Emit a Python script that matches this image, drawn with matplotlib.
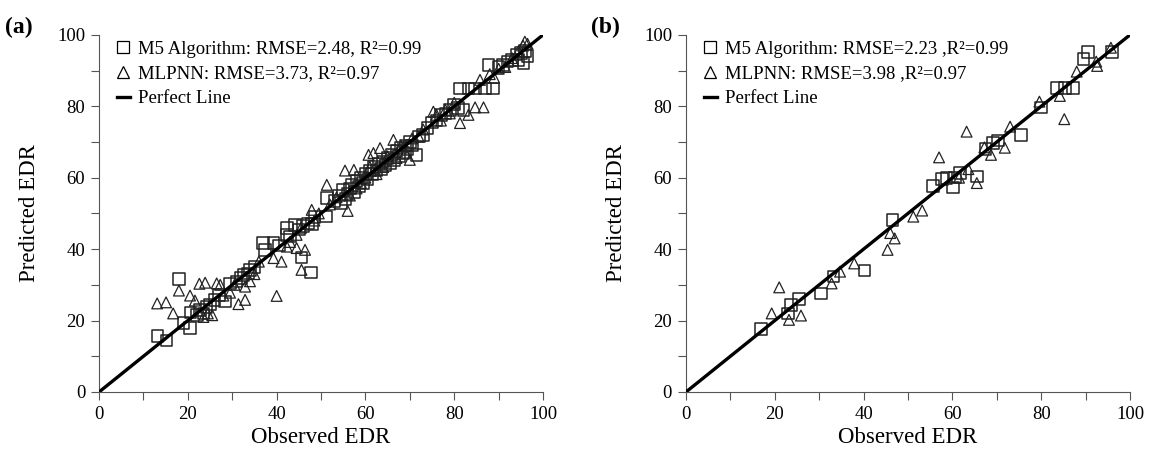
import matplotlib
matplotlib.use("Agg")
import matplotlib.pyplot as plt
from matplotlib.lines import Line2D
from matplotlib.ticker import MultipleLocator

plt.rcParams["font.family"] = ["Liberation Serif", "DejaVu Serif"]

# panel (a) - M5 algorithm (squares)
a_m5_obs = [13.2, 15.2, 18.0, 19.0, 20.5, 20.6, 22.0, 22.8, 23.5, 24.2, 25.0, 26.0, 27.0, 28.4,
            29.5, 31.0, 32.0, 32.5, 33.5, 34.0, 35.0, 37.0, 37.4, 39.3, 40.5, 42.3, 42.3, 43.0,
            44.1, 45.0, 45.6, 46.0, 47.0, 47.7, 47.9, 48.5, 51.1, 51.4, 53.0, 54.0, 54.5, 55.0,
            55.5, 56.0, 56.5, 57.0, 57.5, 58.0, 58.5, 59.0, 59.5, 60.0, 60.5, 61.0, 61.5, 62.0,
            62.5, 63.0, 63.5, 64.0, 64.5, 65.0, 65.5, 66.0, 66.5, 67.0, 67.5, 68.0, 68.5, 69.0,
            69.5, 70.0, 70.5, 71.5, 72.0, 73.0, 74.0, 75.0, 76.0, 77.0, 78.0, 79.0, 80.0, 80.9,
            81.3, 82.1, 83.2, 84.7, 86.9, 87.7, 88.8, 90.0, 91.0, 92.0, 93.0, 94.0, 94.5, 95.0,
            95.6, 96.0, 96.5]
a_m5_pred = [15.7, 14.4, 31.6, 19.4, 18.0, 22.3, 21.5, 23.0, 22.0, 23.8, 24.5, 25.8, 27.2, 25.3,
             30.4, 30.9, 32.0, 32.8, 33.2, 34.2, 35.0, 41.7, 39.8, 41.7, 41.0, 45.9, 44.0, 43.5,
             46.8, 45.5, 37.7, 46.5, 47.2, 33.5, 47.1, 49.0, 49.1, 54.3, 53.5, 55.0, 53.0, 56.5,
             54.0, 55.5, 57.0, 58.0, 56.0, 59.0, 57.5, 60.0, 58.5, 61.0, 59.5, 62.0, 61.0, 63.0,
             62.0, 64.0, 62.5, 64.5, 63.5, 65.5, 64.0, 66.5, 65.0, 67.5, 66.0, 68.5, 67.0, 69.0,
             68.0, 70.0, 69.0, 66.4, 71.5, 72.0, 74.0, 75.5, 76.0, 77.5, 78.0, 79.0, 80.5, 79.5,
             85.0, 79.0, 85.0, 85.0, 85.0, 91.6, 85.0, 91.0, 91.5, 92.5, 93.0, 94.5, 93.0, 95.0,
             92.1, 95.5, 94.0]

# panel (a) - MLPNN (triangles)
a_nn_obs = [13.1, 15.1, 16.7, 18.0, 20.5, 21.6, 22.6, 23.9, 23.5, 24.5, 25.5, 26.5, 27.3, 28.0,
            29.5, 30.5, 31.4, 32.9, 32.9, 34.0, 35.0, 36.0, 39.3, 40.0, 41.1, 42.3, 43.0, 44.5,
            44.5, 45.5, 46.4, 45.6, 47.9, 48.5, 49.5, 51.3, 52.0, 53.5, 55.4, 56.0, 56.5, 57.4,
            58.0, 59.0, 60.0, 60.7, 61.0, 61.8, 62.5, 63.3, 64.0, 65.0, 66.3, 67.0, 68.0, 69.0,
            70.0, 70.5, 72.0, 73.0, 75.3, 76.0, 77.0, 78.0, 79.0, 80.0, 81.3, 83.2, 84.7, 85.8,
            86.6, 88.0, 89.0, 90.0, 91.5, 93.0, 94.5, 95.5, 95.9, 96.5]
a_nn_pred = [24.8, 25.1, 22.0, 28.4, 27.0, 25.6, 30.3, 30.6, 21.0, 22.0, 21.5, 30.4, 30.0, 27.0,
             27.8, 30.0, 24.6, 25.8, 29.5, 31.0, 33.0, 36.5, 37.5, 26.9, 36.5, 40.7, 42.0, 40.3,
             44.0, 46.0, 39.8, 34.2, 51.0, 48.0, 50.0, 58.0, 52.5, 54.5, 62.0, 50.7, 55.0, 62.2,
             57.0, 58.5, 60.0, 66.4, 63.0, 66.9, 61.0, 68.3, 63.0, 66.0, 70.6, 65.5, 69.0, 67.0,
             65.0, 71.0, 71.5, 73.5, 78.5, 77.6, 76.0, 79.0, 78.0, 81.0, 75.3, 77.6, 79.7, 87.4,
             79.7, 89.0, 88.0, 90.5, 91.0, 93.5, 95.5, 97.0, 98.1, 97.5]

# panel (b) - M5 algorithm (squares)
b_m5_obs = [16.9, 23.0, 23.6, 25.5, 30.4, 33.2, 40.2, 46.5, 55.7, 57.6, 58.7, 60.2, 60.6, 61.7,
            65.5, 67.5, 69.2, 70.3, 75.4, 79.9, 83.5, 85.4, 87.2, 89.5, 90.6, 96.0]
b_m5_pred = [17.6, 22.0, 24.4, 26.0, 27.6, 32.3, 34.0, 48.2, 57.7, 59.6, 59.9, 57.3, 60.1, 61.3,
             60.3, 68.0, 69.7, 70.4, 72.0, 79.7, 85.1, 85.1, 85.1, 93.2, 95.2, 95.2]

# panel (b) - MLPNN (triangles)
b_nn_obs = [19.3, 21.0, 23.2, 25.9, 32.8, 34.7, 37.9, 45.4, 46.0, 47.0, 51.2, 53.2, 57.0, 61.5,
            63.2, 63.6, 65.5, 67.2, 68.7, 71.8, 73.0, 79.6, 84.2, 85.2, 88.0, 92.6, 92.4, 95.7]
b_nn_pred = [22.0, 29.3, 20.2, 21.4, 30.4, 33.7, 36.0, 39.8, 44.5, 43.0, 49.1, 50.8, 65.7, 60.0,
             72.9, 62.4, 58.5, 68.5, 66.4, 68.4, 74.3, 81.3, 82.9, 76.4, 89.7, 91.3, 92.5, 96.4]

labels_a = ["M5 Algorithm: RMSE=2.48, R²=0.99", "MLPNN: RMSE=3.73, R²=0.97", "Perfect Line"]
labels_b = ["M5 Algorithm: RMSE=2.23 ,R²=0.99", "MLPNN: RMSE=3.98 ,R²=0.97", "Perfect Line"]

fig = plt.figure(figsize=(11.5, 4.65), dpi=100)
ax_a = fig.add_axes([0.0861, 0.157, 0.3861, 0.768])
ax_b = fig.add_axes([0.5965, 0.157, 0.3861, 0.768])

panels = [
    (ax_a, a_m5_obs, a_m5_pred, a_nn_obs, a_nn_pred, labels_a, "(a)", 0.004),
    (ax_b, b_m5_obs, b_m5_pred, b_nn_obs, b_nn_pred, labels_b, "(b)", 0.514),
]

for ax, mx, my, nx, ny, labels, tag, tag_x in panels:
    ax.plot([0, 100], [0, 100], color="black", lw=2.4, zorder=3)
    ax.scatter(nx, ny, marker="^", s=60, facecolors="none", edgecolors="#222222",
               linewidths=0.9, zorder=2)
    ax.scatter(mx, my, marker="s", s=70, facecolors="none", edgecolors="#222222",
               linewidths=1.1, zorder=2)

    ax.set_xlim(0, 100)
    ax.set_ylim(0, 100)
    ax.xaxis.set_major_locator(MultipleLocator(20))
    ax.yaxis.set_major_locator(MultipleLocator(20))
    ax.xaxis.set_minor_locator(MultipleLocator(10))
    ax.yaxis.set_minor_locator(MultipleLocator(10))
    ax.tick_params(which="both", direction="out", length=6, width=0.8, color="#555555",
                   labelsize=13.5, pad=4)
    for side in ["top", "right"]:
        ax.spines[side].set_visible(False)
    for side in ["left", "bottom"]:
        ax.spines[side].set_color("#555555")

    ax.set_xlabel("Observed EDR", fontsize=16.5, labelpad=3)
    ax.set_ylabel("Predicted EDR", fontsize=16.5, labelpad=12)

    handles = [
        Line2D([], [], marker="s", ls="none", mfc="none", mec="black", ms=8.5, mew=0.9),
        Line2D([], [], marker="^", ls="none", mfc="none", mec="black", ms=8.5, mew=0.9),
        Line2D([], [], color="black", lw=2.4),
    ]
    ax.legend(handles, labels, loc="upper left", bbox_to_anchor=(0.015, 1.015), frameon=False,
              fontsize=13.5, handlelength=0.7, handletextpad=0.4, labelspacing=0.4,
              borderaxespad=0.2)

    fig.text(tag_x, 0.94, tag, fontsize=17, fontweight="bold", ha="left", va="center")

fig.savefig("out.png", dpi=100)
